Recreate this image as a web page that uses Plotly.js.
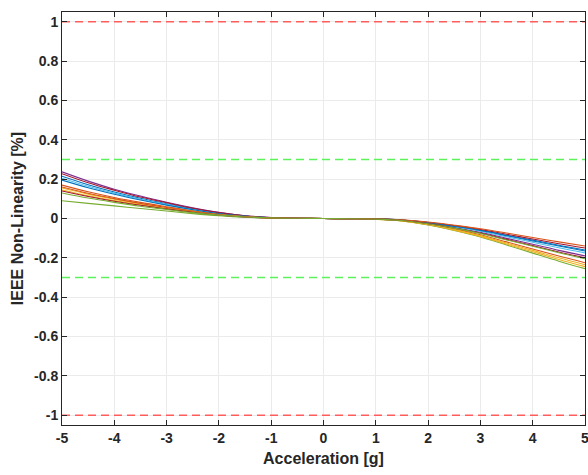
<!DOCTYPE html>
<html>
<head>
<meta charset="utf-8">
<script src="https://cdn.plot.ly/plotly-3.0.1.min.js"></script>
<style>html,body{margin:0;padding:0;background:#fff;}#chart{width:588px;height:475px;}</style>
</head>
<body>
<div id="chart"></div>
<script>
const accel = [-5,-4.5,-4,-3.5,-3,-2.5,-2,-1.5,-1,-0.5,0,0.5,1,1.5,2,2.5,3,3.5,4,4.5,5];

const s1  = [0.215,0.172,0.135,0.103,0.075,0.049,0.028,0.013,0.004,0.001,0,-0.001,-0.002,-0.008,-0.021,-0.038,-0.059,-0.085,-0.110,-0.136,-0.160];
const s2  = [0.170,0.136,0.107,0.082,0.060,0.039,0.022,0.010,0.003,0.001,0,-0.001,-0.003,-0.011,-0.029,-0.054,-0.083,-0.119,-0.155,-0.191,-0.225];
const s3  = [0.155,0.124,0.098,0.074,0.054,0.036,0.020,0.009,0.003,0.001,0,-0.001,-0.004,-0.012,-0.031,-0.056,-0.087,-0.125,-0.162,-0.200,-0.235];
const s4  = [0.237,0.190,0.149,0.114,0.083,0.055,0.031,0.014,0.005,0.001,0,-0.001,-0.003,-0.010,-0.025,-0.046,-0.070,-0.101,-0.131,-0.162,-0.190];
const s5  = [0.090,0.077,0.064,0.051,0.038,0.025,0.014,0.006,0.002,0.000,0,-0.001,-0.004,-0.013,-0.033,-0.061,-0.094,-0.135,-0.176,-0.217,-0.255];
const s6  = [0.205,0.164,0.129,0.098,0.072,0.047,0.027,0.012,0.004,0.001,0,-0.001,-0.003,-0.009,-0.023,-0.042,-0.065,-0.093,-0.121,-0.149,-0.175];
const s7  = [0.228,0.182,0.144,0.109,0.080,0.052,0.030,0.014,0.005,0.001,0,-0.001,-0.002,-0.008,-0.020,-0.036,-0.056,-0.080,-0.104,-0.128,-0.150];
const s8  = [0.195,0.156,0.123,0.094,0.068,0.045,0.025,0.012,0.004,0.001,0,-0.001,-0.002,-0.008,-0.021,-0.040,-0.061,-0.087,-0.114,-0.140,-0.165];
const s9  = [0.160,0.128,0.101,0.077,0.056,0.037,0.021,0.010,0.003,0.001,0,-0.001,-0.002,-0.007,-0.018,-0.034,-0.052,-0.074,-0.097,-0.119,-0.140];
const s10 = [0.145,0.116,0.091,0.070,0.051,0.033,0.019,0.009,0.003,0.001,0,-0.001,-0.004,-0.012,-0.032,-0.059,-0.091,-0.130,-0.169,-0.208,-0.245];
const s11 = [0.140,0.112,0.088,0.067,0.049,0.032,0.018,0.008,0.003,0.001,0,-0.001,-0.003,-0.010,-0.026,-0.048,-0.074,-0.106,-0.138,-0.170,-0.200];
const s12 = [0.130,0.104,0.082,0.062,0.046,0.030,0.017,0.008,0.003,0.001,0,-0.001,-0.003,-0.010,-0.027,-0.049,-0.076,-0.109,-0.141,-0.174,-0.205];

const seriesList = [s1,s2,s3,s4,s5,s6,s7,s8,s9,s10,s11,s12];
const seriesColors = ['#0072BD','#D95319','#EDB120','#7E2F8E','#77AC30','#4DBEEE','#A2142F','#0072BD','#D95319','#EDB120','#A2142F','#77AC30'];

const limitX = [-5, 5];
const redLimits = [1, -1];
const greenLimits = [0.3, -0.3];

const xTickVals = [-5,-4,-3,-2,-1,0,1,2,3,4,5];
const xTickText = ['-5','-4','-3','-2','-1','0','1','2','3','4','5'];
const yTickVals = [-1,-0.8,-0.6,-0.4,-0.2,0,0.2,0.4,0.6,0.8,1];
const yTickText = ['-1','-0.8','-0.6','-0.4','-0.2','0','0.2','0.4','0.6','0.8','1'];

const traces = [];
redLimits.forEach(v => traces.push({x: limitX, y: [v, v], mode: 'lines', line: {color: '#FF5C5C', width: 1.5, dash: '8px,5px'}, hoverinfo: 'skip'}));
greenLimits.forEach(v => traces.push({x: limitX, y: [v, v], mode: 'lines', line: {color: '#5CF25C', width: 1.5, dash: '8px,5px'}, hoverinfo: 'skip'}));
seriesList.forEach((s, i) => traces.push({x: accel, y: s, mode: 'lines', line: {color: seriesColors[i], width: 1.1, shape: 'spline'}}));

const fam = 'Liberation Sans, Arial, sans-serif';
const tickFont = {family: fam, size: 14, color: '#262626', weight: 'bold'};
const layout = {
  width: 588, height: 475,
  margin: {l: 62, r: 3, t: 12, b: 50},
  showlegend: false,
  paper_bgcolor: '#ffffff', plot_bgcolor: '#ffffff',
  xaxis: {
    range: [-5.0001, 5.0001], tickvals: xTickVals, ticktext: xTickText,
    ticks: 'inside', ticklen: 5, tickcolor: '#262626',
    showline: true, mirror: 'ticks', linecolor: '#262626', linewidth: 1,
    showgrid: true, gridcolor: '#EBEBEB', zeroline: false,
    tickfont: tickFont, ticklabeloverflow: 'allow',
    title: {text: 'Acceleration [g]', font: {family: fam, size: 16, color: '#262626', weight: 'bold'}, standoff: 8}
  },
  yaxis: {
    range: [-1.05, 1.05], tickvals: yTickVals, ticktext: yTickText,
    ticks: 'inside', ticklen: 5, tickcolor: '#262626',
    showline: true, mirror: 'ticks', linecolor: '#262626', linewidth: 1,
    showgrid: true, gridcolor: '#EBEBEB', zeroline: false,
    tickfont: tickFont,
    title: {text: 'IEEE Non-Linearity [%]', font: {family: fam, size: 16, color: '#262626', weight: 'bold'}, standoff: 6}
  }
};
Plotly.newPlot('chart', traces, layout, {displayModeBar: false, staticPlot: true});
</script>
</body>
</html>
